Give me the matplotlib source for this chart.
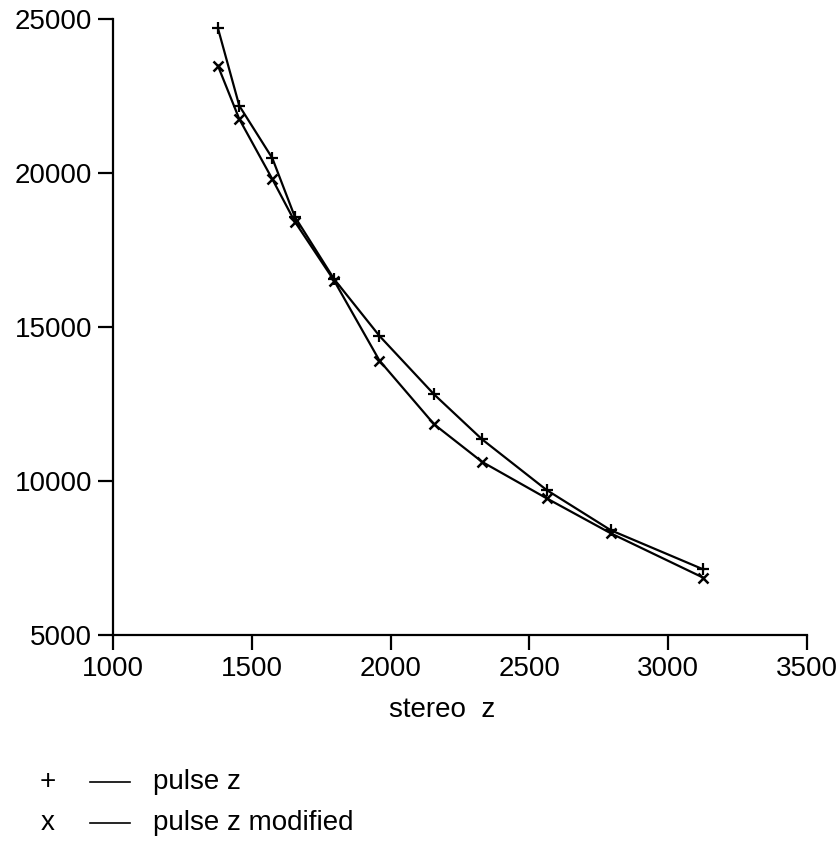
import matplotlib
matplotlib.use("Agg")
import matplotlib.pyplot as plt
from matplotlib.lines import Line2D

plt.rcParams['font.family'] = ['Liberation Sans', 'DejaVu Sans']

# stereo z values (shared by both series)
stereo_z = [1378, 1455, 1574, 1655, 1797, 1960, 2157, 2330, 2562, 2794, 3127]
# pulse z
pulse_z = [24700, 22180, 20480, 18580, 16550, 14710, 12810, 11350, 9710, 8400, 7130]
# pulse z modified
pulse_z_mod = [23480, 21750, 19800, 18420, 16500, 13910, 11840, 10620, 9440, 8300, 6860]

x_ticks = [1000, 1500, 2000, 2500, 3000, 3500]
y_ticks = [5000, 10000, 15000, 20000, 25000]

fig = plt.figure(figsize=(8.37, 8.44), dpi=100)
ax = fig.add_axes([0.135, 0.2476, 0.829, 0.730])

ax.plot(stereo_z, pulse_z, color="black", lw=1.6, marker="+", ms=9, mew=1.6)
ax.plot(stereo_z, pulse_z_mod, color="black", lw=1.6, marker="x", ms=7, mew=1.8)

ax.set_xlim(1000, 3500)
ax.set_ylim(5000, 25000)
ax.set_xticks(x_ticks)
ax.set_yticks(y_ticks)
ax.tick_params(axis="both", direction="out", length=11, width=1.6, labelsize=20,
               color="black")
ax.tick_params(axis="y", pad=4)
ax.tick_params(axis="x", pad=4)
for side in ["top", "right"]:
    ax.spines[side].set_visible(False)
for side in ["left", "bottom"]:
    ax.spines[side].set_linewidth(1.6)

ax.set_xlabel("stereo  z", fontsize=20)
ax.xaxis.set_label_coords(0.475, -0.1)

# legend drawn below the axes, like the original
fig.text(48 / 837, 1 - 782 / 844, "+", fontsize=20, ha="center", va="center")
fig.add_artist(Line2D([90 / 837, 130 / 837], [1 - 782 / 844] * 2,
                      color="black", lw=1.2, transform=fig.transFigure))
fig.text(153 / 837, 1 - 782 / 844, "pulse z", fontsize=20, ha="left", va="center")
fig.text(48 / 837, 1 - 823 / 844, "x", fontsize=20, ha="center", va="center")
fig.add_artist(Line2D([90 / 837, 130 / 837], [1 - 823 / 844] * 2,
                      color="black", lw=1.2, transform=fig.transFigure))
fig.text(153 / 837, 1 - 823 / 844, "pulse z modified", fontsize=20, ha="left", va="center")

fig.savefig("out.png", dpi=100)
